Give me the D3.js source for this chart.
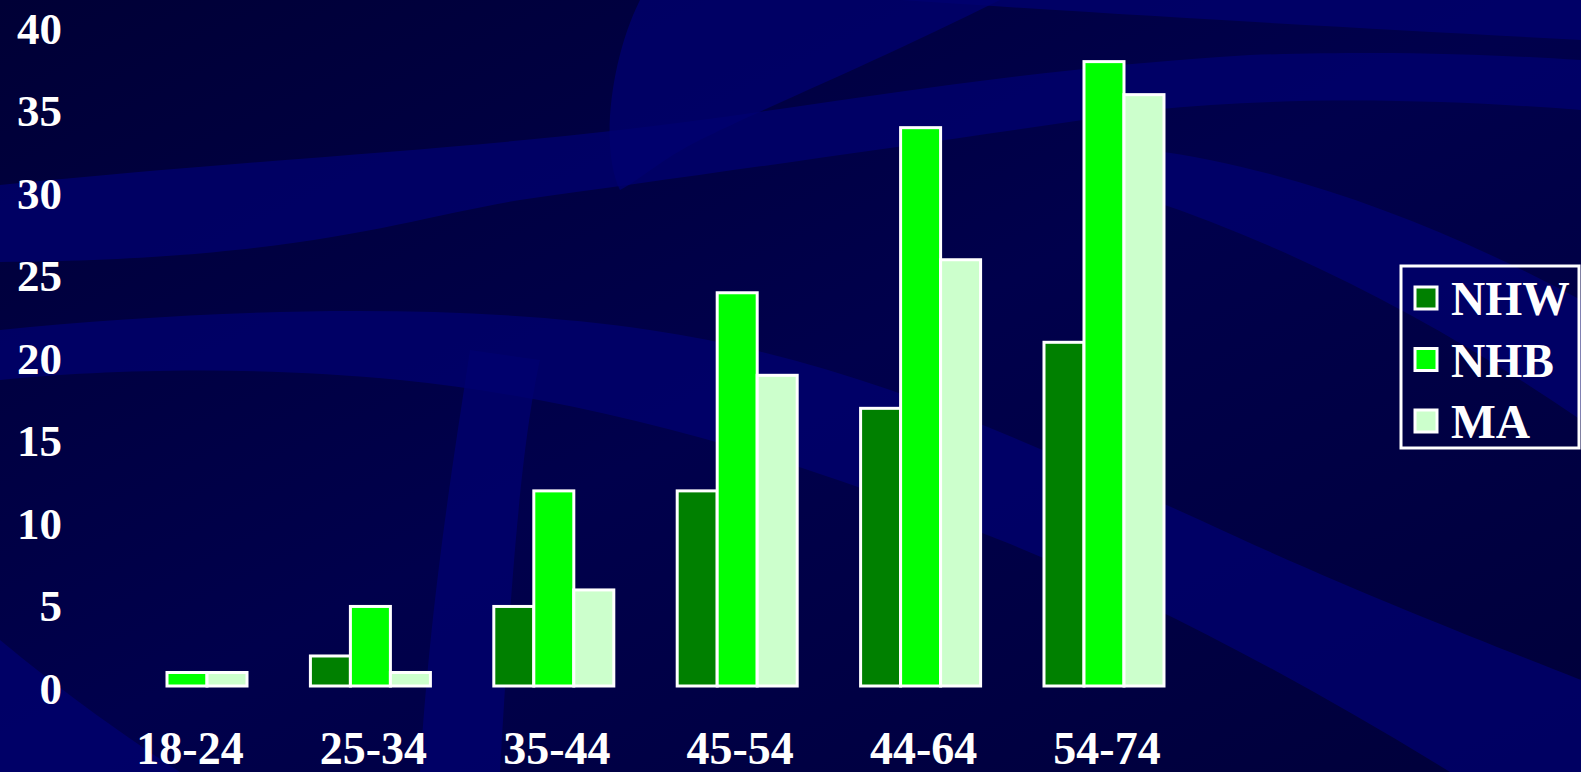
<!DOCTYPE html>
<html>
<head>
<meta charset="utf-8">
<script src="https://cdn.jsdelivr.net/npm/d3@7"></script>
<style>
  html, body { margin: 0; padding: 0; background: #000044; overflow: hidden; }
  svg { display: block; }
</style>
</head>
<body>
<svg id="chart" width="1581" height="772"></svg>
<script>
// ---- data ----
const categories = ["18-24", "25-34", "35-44", "45-54", "44-64", "54-74"];
const seriesNames = ["NHW", "NHB", "MA"];
const seriesColors = ["#008000", "#00ff00", "#ccffcc"];
const nhw = [0, 2, 5, 12, 17, 21];
const nhb = [1, 5, 12, 24, 34, 38];
const ma  = [1, 1, 6, 19, 26, 36];
const yTicks = [0, 5, 10, 15, 20, 25, 30, 35, 40];

const seriesValues = [nhw, nhb, ma];

const W = 1581, H = 772;
const svg = d3.select("#chart");

// ---- background (decorative) ----
const defs = svg.append("defs");
const bg = defs.append("linearGradient").attr("id", "bgGrad")
  .attr("x1", "0").attr("y1", "0").attr("x2", "1").attr("y2", "1");
bg.append("stop").attr("offset", "0").attr("stop-color", "#000036");
bg.append("stop").attr("offset", "0.5").attr("stop-color", "#00004c");
bg.append("stop").attr("offset", "1").attr("stop-color", "#00003a");
svg.append("rect").attr("width", W).attr("height", H).attr("fill", "url(#bgGrad)");

const deco = svg.append("g").attr("fill", "#000070");
const bandPaths = [
  "M0,185 C250,160 450,150 620,130 C800,110 1000,70 1250,55 C1400,50 1500,55 1581,60 L1581,110 C1450,100 1300,95 1150,110 C950,140 700,175 520,200 C400,220 300,260 0,262 Z",
  "M640,0 L1000,0 C880,60 760,110 700,140 C660,160 640,180 620,190 C600,150 610,60 640,0 Z",
  "M0,330 C200,310 450,300 650,330 C850,360 1000,430 1200,520 C1350,590 1480,640 1581,680 L1581,772 L1450,772 C1300,680 1150,600 1000,540 C800,460 600,400 400,380 C250,365 100,370 0,380 Z",
  "M900,0 L1581,0 L1581,40 C1400,30 1200,20 900,0 Z",
  "M1150,150 C1300,170 1450,230 1581,300 L1581,420 C1450,330 1300,250 1150,200 Z",
  "M0,640 C60,690 130,740 180,772 L0,772 Z",
  "M470,350 C455,450 430,600 420,772 L500,772 C510,600 520,450 540,360 Z"
];
deco.selectAll("path").data(bandPaths).join("path")
  .attr("d", d => d).attr("opacity", 0.75);

// ---- scales ----
const x = d3.scaleBand().domain(categories).range([95.3, 1195.7])
  .paddingInner(0.3457).paddingOuter(0.1729);
const xs = d3.scaleBand().domain(seriesNames).range([0, x.bandwidth()]);
const y = d3.scaleLinear().domain([0, 40]).range([689, 28.6]);
const baseline = y(0) - 3;

// ---- bars ----
const groups = svg.append("g").selectAll("g")
  .data(categories).join("g")
  .attr("transform", d => `translate(${x(d)},0)`);

groups.selectAll("rect")
  .data((c, i) => seriesNames.map((s, j) => ({ s, j, v: seriesValues[j][i] })).filter(d => d.v > 0))
  .join("rect")
  .attr("x", d => xs(d.s))
  .attr("width", xs.bandwidth())
  .attr("y", d => y(d.v))
  .attr("height", d => baseline - y(d.v))
  .attr("fill", d => seriesColors[d.j])
  .attr("stroke", "#ffffff")
  .attr("stroke-width", 3);

// ---- axes ----
const font = "'Liberation Serif', 'Times New Roman', serif";
const yAxis = d3.axisLeft(y).tickValues(yTicks).tickSize(0).tickPadding(0);
const gy = svg.append("g").attr("transform", "translate(62,0)").call(yAxis);
gy.select(".domain").remove();
gy.selectAll("text")
  .attr("fill", "#ffffff")
  .attr("font-family", font)
  .attr("font-weight", "bold")
  .attr("font-size", "45px")
  .attr("dy", "0.32em");

const xAxis = d3.axisBottom(x).tickSize(0).tickPadding(0);
const gx = svg.append("g").attr("transform", "translate(3,764)").call(xAxis);
gx.select(".domain").remove();
gx.selectAll("text")
  .attr("fill", "#ffffff")
  .attr("font-family", font)
  .attr("font-weight", "bold")
  .attr("font-size", "46px")
  .attr("dy", "0");

// ---- legend ----
const legend = svg.append("g");
legend.append("rect")
  .attr("x", 1401).attr("y", 266).attr("width", 178).attr("height", 182)
  .attr("fill", "none")
  .attr("stroke", "#ffffff").attr("stroke-width", 3);
const li = legend.selectAll("g.item").data(seriesNames).join("g")
  .attr("class", "item")
  .attr("transform", (d, i) => `translate(1415,${287 + i * 61.5})`);
li.append("rect")
  .attr("width", 22).attr("height", 22)
  .attr("fill", (d, i) => seriesColors[i])
  .attr("stroke", "#ffffff").attr("stroke-width", 3);
li.append("text")
  .attr("x", 36).attr("y", 28)
  .attr("fill", "#ffffff")
  .attr("font-family", font)
  .attr("font-weight", "bold")
  .attr("font-size", "47.5px")
  .text(d => d);
</script>
</body>
</html>
